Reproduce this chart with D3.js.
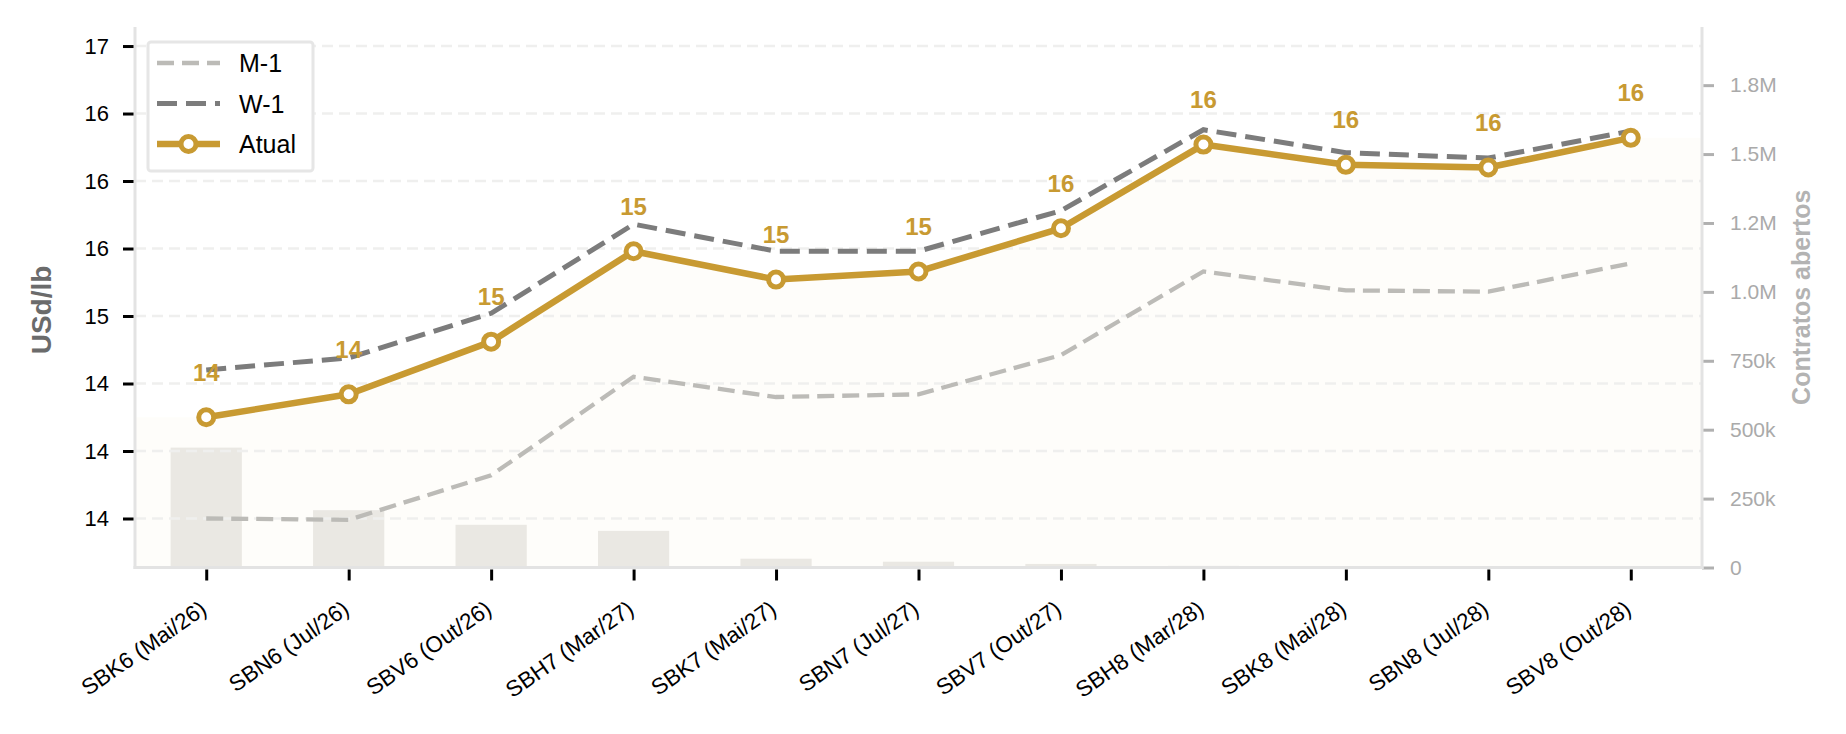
<!DOCTYPE html>
<html>
<head>
<meta charset="utf-8">
<script src="https://cdn.jsdelivr.net/npm/d3@7"></script>
<style>
  body { margin: 0; background: #fff; }
  text { font-family: "Liberation Sans", Arial, sans-serif; }
</style>
</head>
<body>
<div id="chart"></div>
<script>
const contracts = ["SBK6 (Mai/26)", "SBN6 (Jul/26)", "SBV6 (Out/26)", "SBH7 (Mar/27)", "SBK7 (Mai/27)",
    "SBN7 (Jul/27)", "SBV7 (Out/27)", "SBH8 (Mar/28)", "SBK8 (Mai/28)", "SBN8 (Jul/28)", "SBV8 (Out/28)"];
const atual = [14.25, 14.42, 14.81, 15.48, 15.27, 15.33, 15.65, 16.27, 16.12, 16.10, 16.32];
const w1 = [14.60, 14.69, 15.02, 15.68, 15.48, 15.48, 15.78, 16.38, 16.21, 16.17, 16.37];
const m1 = [13.50, 13.49, 13.82, 14.55, 14.40, 14.42, 14.71, 15.33, 15.19, 15.18, 15.39];
const openInterest = [435000, 208000, 155000, 133000, 32000, 21000, 13000, 6000, 800, 300, 100];

const leftTicks = [13.5, 14, 14.5, 15, 15.5, 16, 16.5, 17];
const leftTickLabels = ["14", "14", "14", "15", "16", "16", "16", "17"];
const rightTicks = [0, 250000, 500000, 750000, 1000000, 1250000, 1500000, 1750000];
const rightTickLabels = ["0", "250k", "500k", "750k", "1.0M", "1.2M", "1.5M", "1.8M"];

const width = 1846, height = 734;
const pLeft = 135, pRight = 1702, pTop = 27, pBottom = 567.5;
const gold = "#c89a32";

const svg = d3.select("#chart").append("svg")
    .attr("width", width)
    .attr("height", height);

const x = d3.scalePoint().domain(contracts).range([pLeft, pRight]).padding(0.5);
const y = d3.scaleLinear().domain([13.137, 17.141]).range([pBottom, pTop]);
const y2 = d3.scaleLinear().domain([0, 1961000]).range([pBottom, pTop]);
const step = x.step();

// open interest bars (back)
svg.append("g").selectAll("rect")
    .data(contracts)
    .join("rect")
    .attr("x", d => x(d) - step * 0.25)
    .attr("width", step * 0.5)
    .attr("y", (d, i) => y2(openInterest[i]))
    .attr("height", (d, i) => pBottom - y2(openInterest[i]))
    .attr("fill", "#ebeae8");

// soft fill under current curve, stretched to the edges
const areaPts = [[pLeft, atual[0]]].concat(contracts.map((c, i) => [x(c), atual[i]]), [[pRight, atual[atual.length - 1]]]);
svg.append("path")
    .datum(areaPts)
    .attr("d", d3.area().x(d => d[0]).y0(pBottom).y1(d => y(d[1])))
    .attr("fill", gold)
    .attr("fill-opacity", 0.025);

// grid
svg.append("g").selectAll("line")
    .data(leftTicks)
    .join("line")
    .attr("x1", pLeft).attr("x2", pRight)
    .attr("y1", d => y(d)).attr("y2", d => y(d))
    .attr("stroke", "#efefee")
    .attr("stroke-width", 2.5)
    .attr("stroke-dasharray", "11,6");

// left axis
const yAxis = svg.append("g")
    .attr("transform", `translate(${pLeft},0)`)
    .call(d3.axisLeft(y).tickValues(leftTicks).tickFormat((d, i) => leftTickLabels[i]).tickSize(12).tickPadding(14));
yAxis.select(".domain").remove();
yAxis.selectAll(".tick line").attr("stroke", "#000").attr("stroke-width", 3);
yAxis.selectAll(".tick text").attr("font-size", 22).attr("fill", "#000");

// right axis
const y2Axis = svg.append("g")
    .attr("transform", `translate(${pRight},0)`)
    .call(d3.axisRight(y2).tickValues(rightTicks).tickFormat((d, i) => rightTickLabels[i]).tickSize(12).tickPadding(16));
y2Axis.select(".domain").remove();
y2Axis.selectAll(".tick line").attr("stroke", "#b0b0b0").attr("stroke-width", 3);
y2Axis.selectAll(".tick text").attr("font-size", 21).attr("fill", "#aaaaaa");

// x axis
const xAxis = svg.append("g")
    .attr("transform", `translate(0,${pBottom})`)
    .call(d3.axisBottom(x).tickSize(13).tickPadding(6));
xAxis.select(".domain").remove();
xAxis.selectAll(".tick line").attr("stroke", "#000").attr("stroke-width", 3).attr("y1", 2);
xAxis.selectAll(".tick text")
    .attr("font-size", 22.5)
    .attr("fill", "#000")
    .attr("text-anchor", "end")
    .attr("dy", null)
    .attr("y", 0)
    .attr("transform", "translate(-2,40) rotate(-35)")
    .attr("dominant-baseline", "middle");

// spines
const spine = "#e3e3e3";
svg.append("line").attr("x1", pLeft).attr("x2", pLeft).attr("y1", pTop).attr("y2", pBottom + 1.5)
    .attr("stroke", spine).attr("stroke-width", 3);
svg.append("line").attr("x1", pRight).attr("x2", pRight).attr("y1", pTop).attr("y2", pBottom + 1.5)
    .attr("stroke", spine).attr("stroke-width", 3);
svg.append("line").attr("x1", pLeft - 1.5).attr("x2", pRight + 1.5).attr("y1", pBottom).attr("y2", pBottom)
    .attr("stroke", spine).attr("stroke-width", 3);

// lines
const line = vals => d3.line().x((d, i) => x(contracts[i])).y(d => y(d))(vals);

svg.append("path")
    .attr("d", line(m1))
    .attr("fill", "none")
    .attr("stroke", "#bcbbb7")
    .attr("stroke-width", 4.3)
    .attr("stroke-dasharray", "17,8");

svg.append("path")
    .attr("d", line(w1))
    .attr("fill", "none")
    .attr("stroke", "#7c7c7c")
    .attr("stroke-width", 5)
    .attr("stroke-dasharray", "20,9");

svg.append("path")
    .attr("d", line(atual))
    .attr("fill", "none")
    .attr("stroke", gold)
    .attr("stroke-width", 6.5)
    .attr("stroke-linejoin", "round");

svg.append("g").selectAll("circle")
    .data(atual)
    .join("circle")
    .attr("cx", (d, i) => x(contracts[i]))
    .attr("cy", d => y(d))
    .attr("r", 7.5)
    .attr("fill", "#fff")
    .attr("stroke", gold)
    .attr("stroke-width", 5);

svg.append("g").selectAll("text")
    .data(atual)
    .join("text")
    .attr("x", (d, i) => x(contracts[i]))
    .attr("y", d => y(d) - 45)
    .attr("text-anchor", "middle")
    .attr("dominant-baseline", "central")
    .attr("font-size", 24)
    .attr("font-weight", "bold")
    .attr("fill", gold)
    .text(d => d3.format(".0f")(d));

// axis titles
svg.append("text")
    .attr("transform", `translate(41,310) rotate(-90)`)
    .attr("text-anchor", "middle")
    .attr("dominant-baseline", "central")
    .attr("font-size", 28)
    .attr("font-weight", "bold")
    .attr("fill", "#6b6b6b")
    .text("USd/lb");

svg.append("text")
    .attr("transform", `translate(1801,${(pTop + pBottom) / 2}) rotate(-90)`)
    .attr("text-anchor", "middle")
    .attr("dominant-baseline", "central")
    .attr("font-size", 25)
    .attr("font-weight", "bold")
    .attr("fill", "#b3b3b3")
    .text("Contratos abertos");

// legend
const legend = svg.append("g").attr("transform", "translate(148,42)");
legend.append("rect")
    .attr("width", 165).attr("height", 129)
    .attr("rx", 3)
    .attr("fill", "#fff")
    .attr("stroke", "#e6e6e6")
    .attr("stroke-width", 3);

const legendItems = [
    { label: "M-1", color: "#bcbbb7", w: 4.3, dash: "17,8", marker: false },
    { label: "W-1", color: "#7c7c7c", w: 5, dash: "20,9", marker: false },
    { label: "Atual", color: gold, w: 6.5, dash: null, marker: true }
];
const li = legend.selectAll(".item")
    .data(legendItems)
    .join("g")
    .attr("transform", (d, i) => `translate(0,${21 + i * 40.5})`);
li.append("line")
    .attr("x1", 9).attr("x2", 72)
    .attr("stroke", d => d.color)
    .attr("stroke-width", d => d.w)
    .attr("stroke-dasharray", d => d.dash);
li.filter(d => d.marker).append("circle")
    .attr("cx", 40.5).attr("r", 7.5)
    .attr("fill", "#fff").attr("stroke", gold).attr("stroke-width", 5);
li.append("text")
    .attr("x", 91)
    .attr("dominant-baseline", "central")
    .attr("font-size", 25)
    .attr("fill", "#000")
    .text(d => d.label);
</script>
</body>
</html>
